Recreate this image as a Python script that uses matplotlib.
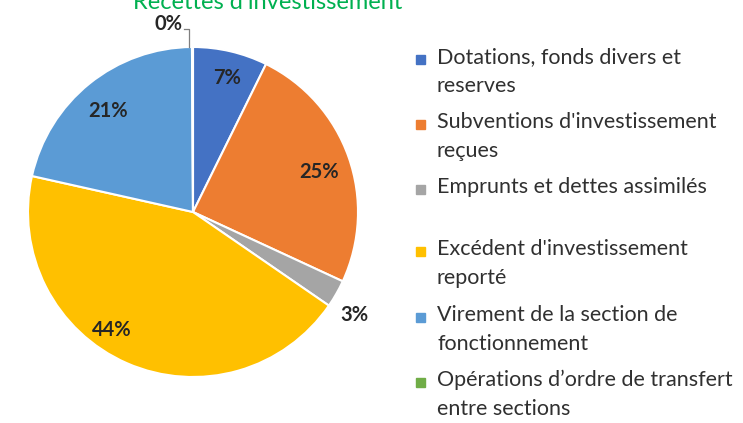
import matplotlib.pyplot as plt
import numpy as np

plt.rcParams['font.family'] = ['Lato', 'DejaVu Sans']

# Data (clockwise from 12 o'clock)
categories = ["Dotations, fonds divers et\nreserves",
              "Subventions d'investissement\nreçues",
              "Emprunts et dettes assimilés",
              "Excédent d'investissement\nreporté",
              "Virement de la section de\nfonctionnement",
              "Opérations d\u2019ordre de transfert\nentre sections"]
shares = [7.3, 24.6, 2.7, 43.9, 21.4, 0.1]
colors = ['#4472C4', '#ED7D31', '#A5A5A5', '#FFC000', '#5B9BD5', '#70AD47']
title = "Recettes d'investissement"

fig = plt.figure(figsize=(7.43, 4.23), dpi=100)
W, H = 743, 423
cx, cy, r = 193, 212, 165
ax = fig.add_axes([(cx - r) / W, (H - cy - r) / H, 2 * r / W, 2 * r / H])

wedges, _ = ax.pie(shares, colors=colors, startangle=90, counterclock=False,
                   radius=1, wedgeprops=dict(edgecolor='white', linewidth=1.5))
ax.set_xlim(-1, 1)
ax.set_ylim(-1, 1)
ax.set_aspect('equal')
ax.set_axis_off()

# percentage labels: (radius, angle shift in degrees) per slice
label_pos = [(0.84, -1), (0.80, -2), (1.16, -3), (0.87, -11), (0.80, 1), None]
total = sum(shares)
for w, v, pos in zip(wedges, shares, label_pos):
    txt = f"{round(v / total * 100):.0f}%"
    if pos is None:
        continue
    ang = np.deg2rad((w.theta1 + w.theta2) / 2 + pos[1])
    ax.text(pos[0] * np.cos(ang), pos[0] * np.sin(ang), txt, ha='center', va='center',
            fontsize=14.5, fontweight='bold', color='#262626', clip_on=False)

# the 0% slice gets a leader line
zero_ang = np.deg2rad((wedges[-1].theta1 + wedges[-1].theta2) / 2)
x0 = np.cos(zero_ang) - 0.02
ax.plot([x0, x0, x0 - 0.03], [1.0, 1.11, 1.11], color='#7f7f7f', lw=0.9, clip_on=False)
ax.text(x0 - 0.04, 1.14, f"{round(shares[-1]):.0f}%", ha='right', va='center',
        fontsize=14.5, fontweight='bold', color='#262626')

# title (cut off at the top like the source)
fig.text(268 / W, 1 - 9 / H, title, ha='center', va='baseline', fontsize=17, color='#00B050')

# legend
leg_y = [60, 125, 190, 252, 318, 383]
for lab, col, y in zip(categories, colors, leg_y):
    fig.patches.append(plt.Rectangle((416 / W, 1 - (y + 4) / H), 9 / W, 9 / H,
                                     transform=fig.transFigure, color=col))
    fig.text(437 / W, 1 - (y - 13) / H, lab, ha='left', va='top', fontsize=15.5,
             color='#303030', linespacing=1.55)

fig.savefig('out.png', dpi=100, facecolor='white')
